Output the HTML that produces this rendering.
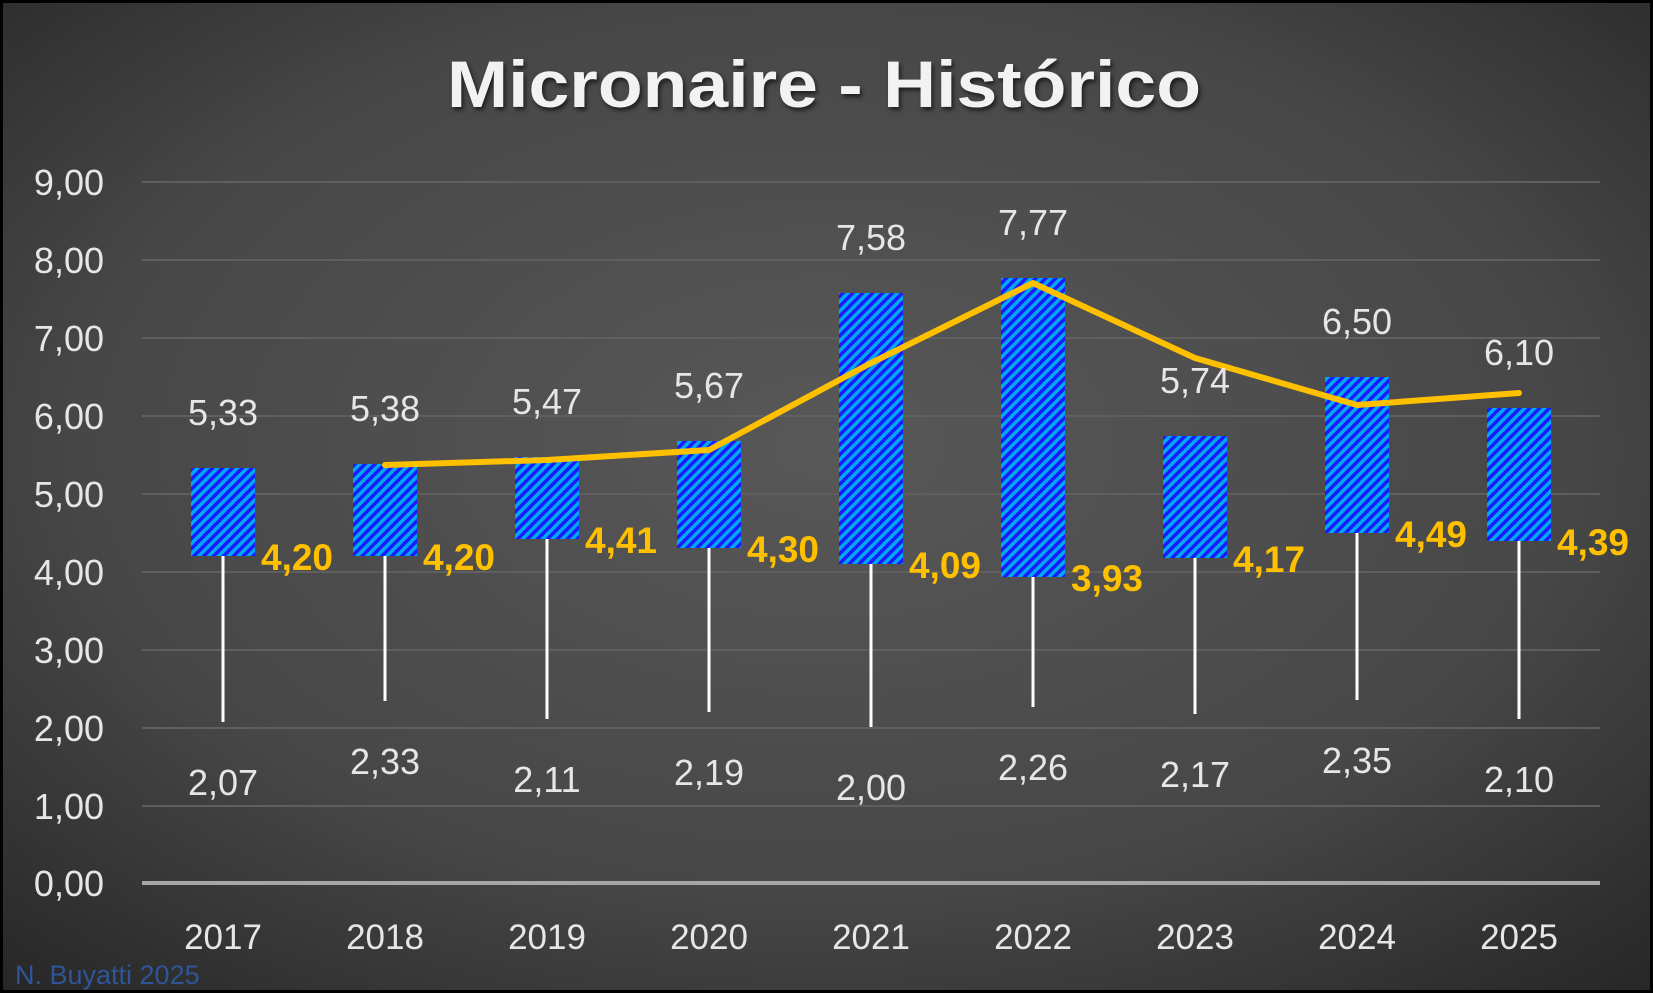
<!DOCTYPE html>
<html><head><meta charset="utf-8"><style>
html,body{margin:0;padding:0;background:#000}
svg{display:block}
text{font-family:"Liberation Sans",sans-serif}
</style></head><body>
<svg width="1653" height="993" viewBox="0 0 1653 993" xmlns="http://www.w3.org/2000/svg">
<defs>
<radialGradient id="bg" cx="0.5" cy="0.45" r="0.75">
<stop offset="0" stop-color="#585858"/><stop offset="0.6" stop-color="#474747"/><stop offset="1" stop-color="#262626"/>
</radialGradient>
<pattern id="st" width="7" height="7" patternUnits="userSpaceOnUse" patternTransform="rotate(-45)">
<rect width="7" height="7" fill="#1a1aff"/><rect width="7" height="3.5" fill="#00a8f0"/>
</pattern>
</defs>
<rect x="0" y="0" width="1653" height="993" fill="#000"/>
<rect x="3" y="3" width="1647" height="987" fill="url(#bg)"/>
<text x="824" y="107" font-size="66" font-weight="bold" fill="#f2f2f2" text-anchor="middle" textLength="754" lengthAdjust="spacingAndGlyphs" style="filter:drop-shadow(2px 3px 2px rgba(0,0,0,0.6))">Micronaire - Histórico</text>
<g stroke="#5f5f5f" stroke-width="2">
<line x1="142" x2="1600" y1="182" y2="182"/><line x1="142" x2="1600" y1="260" y2="260"/>
<line x1="142" x2="1600" y1="338" y2="338"/><line x1="142" x2="1600" y1="416" y2="416"/>
<line x1="142" x2="1600" y1="494" y2="494"/><line x1="142" x2="1600" y1="572" y2="572"/>
<line x1="142" x2="1600" y1="650" y2="650"/><line x1="142" x2="1600" y1="728" y2="728"/>
<line x1="142" x2="1600" y1="806" y2="806"/>
</g>
<line x1="142" x2="1600" y1="883" y2="883" stroke="#a6a6a6" stroke-width="4"/>
<g font-size="36" fill="#e6e6e6" text-anchor="end">
<text x="104" y="195">9,00</text><text x="104" y="273">8,00</text><text x="104" y="351">7,00</text>
<text x="104" y="429">6,00</text><text x="104" y="507">5,00</text><text x="104" y="585">4,00</text>
<text x="104" y="663">3,00</text><text x="104" y="741">2,00</text><text x="104" y="819">1,00</text>
<text x="104" y="896">0,00</text>
</g>
<g font-size="35" fill="#e6e6e6" text-anchor="middle">
<text x="223" y="949">2017</text><text x="385" y="949">2018</text><text x="547" y="949">2019</text>
<text x="709" y="949">2020</text><text x="871" y="949">2021</text><text x="1033" y="949">2022</text>
<text x="1195" y="949">2023</text><text x="1357" y="949">2024</text><text x="1519" y="949">2025</text>
</g>
<g stroke="#fff" stroke-width="3">
<line x1="223" x2="223" y1="556" y2="722"/>
<line x1="385" x2="385" y1="556" y2="701"/>
<line x1="547" x2="547" y1="539" y2="719"/>
<line x1="709" x2="709" y1="548" y2="712"/>
<line x1="871" x2="871" y1="564" y2="727"/>
<line x1="1033" x2="1033" y1="577" y2="707"/>
<line x1="1195" x2="1195" y1="558" y2="714"/>
<line x1="1357" x2="1357" y1="533" y2="700"/>
<line x1="1519" x2="1519" y1="541" y2="719"/>
</g>
<g fill="url(#st)">
<rect x="191" y="468" width="64" height="88"/>
<rect x="353" y="464" width="64" height="92"/>
<rect x="515" y="457" width="64" height="82"/>
<rect x="677" y="441" width="64" height="107"/>
<rect x="839" y="293" width="64" height="271"/>
<rect x="1001" y="278" width="64" height="299"/>
<rect x="1163" y="436" width="64" height="122"/>
<rect x="1325" y="377" width="64" height="156"/>
<rect x="1487" y="408" width="64" height="133"/>
</g>
<polyline points="385,465 547,460 709,450 871,363 1033,283 1195,358 1357,405 1519,393" fill="none" stroke="#ffc000" stroke-width="6" stroke-linejoin="round" stroke-linecap="round"/>
<g font-size="36" fill="#e6e6e6" text-anchor="middle">
<text x="223" y="425">5,33</text><text x="385" y="421">5,38</text><text x="547" y="414">5,47</text>
<text x="709" y="398">5,67</text><text x="871" y="250">7,58</text><text x="1033" y="235">7,77</text>
<text x="1195" y="393">5,74</text><text x="1357" y="334">6,50</text><text x="1519" y="365">6,10</text>
<text x="223" y="795">2,07</text><text x="385" y="774">2,33</text><text x="547" y="792">2,11</text>
<text x="709" y="785">2,19</text><text x="871" y="800">2,00</text><text x="1033" y="780">2,26</text>
<text x="1195" y="787">2,17</text><text x="1357" y="773">2,35</text><text x="1519" y="792">2,10</text>
</g>
<g font-size="37" font-weight="bold" fill="#ffc000">
<text x="261" y="570">4,20</text><text x="423" y="570">4,20</text><text x="585" y="553">4,41</text>
<text x="747" y="562">4,30</text><text x="909" y="578">4,09</text><text x="1071" y="591">3,93</text>
<text x="1233" y="572">4,17</text><text x="1395" y="547">4,49</text><text x="1557" y="555">4,39</text>
</g>
<text x="15" y="984" font-size="27" fill="#2f5597">N. Buyatti 2025</text>
</svg>
</body></html>
